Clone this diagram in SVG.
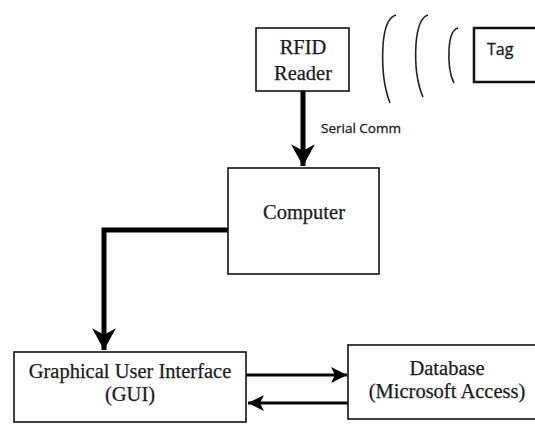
<svg xmlns="http://www.w3.org/2000/svg" width="535" height="424" viewBox="0 0 535 424">
  <style>
    .box { fill: #fff; stroke: #111; stroke-width: 1.6; }
    .tagbox { fill: #fff; stroke: #111; stroke-width: 2.5; }
    .lbl { font-family: "Liberation Serif", "DejaVu Serif", serif; font-size: 20.5px; fill: #1a1a1a; stroke: #1a1a1a; stroke-width: 0.25; text-anchor: middle; }
    .sans { font-family: "Open Sans", "Liberation Sans", sans-serif; fill: #1a1a1a; stroke: #1a1a1a; stroke-width: 0.3; }
    .thick { fill: none; stroke: #000; stroke-width: 5; }
    .thin { fill: none; stroke: #000; stroke-width: 3; }
    .wave { fill: none; stroke: #222; stroke-width: 1.6; }
  </style>
  <defs>
    <marker id="headBig" markerUnits="userSpaceOnUse" markerWidth="26" markerHeight="26" viewBox="-2 -12 24 24" refX="20" refY="0" orient="auto">
      <path d="M0,-11 L20,0 L0,11 L6,0 Z" fill="#000"/>
    </marker>
    <marker id="headSmall" markerUnits="userSpaceOnUse" markerWidth="20" markerHeight="20" viewBox="-2 -10 20 20" refX="16" refY="0" orient="auto">
      <path d="M0,-8 L16,0 L0,8 L4,0 Z" fill="#000"/>
    </marker>
  </defs>
  <rect width="535" height="424" fill="#fff"/>

  <g id="connectors">
    <!-- reader to computer -->
    <path class="thick" d="M303,91 V166" marker-end="url(#headBig)"/>
    <text class="sans" x="321" y="133" font-size="13.5">Serial Comm</text>
    <!-- computer to GUI -->
    <path class="thick" d="M228,230 H104 V350" marker-end="url(#headBig)"/>
    <!-- GUI <-> database -->
    <path class="thin" d="M246,375 H347" marker-end="url(#headSmall)"/>
    <path class="thin" d="M348,403 H248" marker-end="url(#headSmall)"/>
  </g>

  <g id="waves">
    <path class="wave" d="M396,15 Q385,18 383,45 Q381,80 390,103"/>
    <path class="wave" d="M428,15 Q418,18 416,44 Q414,76 423,97"/>
    <path class="wave" d="M458,28 Q450,30 449,50 Q448,72 454,83"/>
  </g>

  <g id="rfid-reader">
    <rect class="box" x="256" y="28" width="93" height="63"/>
    <text class="lbl" x="303" y="54">RFID</text>
    <text class="lbl" x="303" y="80">Reader</text>
  </g>

  <g id="tag">
    <rect class="tagbox" x="474" y="28" width="70" height="54"/>
    <text class="sans" x="487" y="55" font-size="16">Tag</text>
  </g>

  <g id="computer">
    <rect class="box" x="228" y="168" width="151" height="106"/>
    <text class="lbl" x="304" y="219">Computer</text>
  </g>

  <g id="gui">
    <rect class="box" x="14" y="352" width="232" height="70"/>
    <text class="lbl" x="130" y="378">Graphical User Interface</text>
    <text class="lbl" x="130" y="401">(GUI)</text>
  </g>

  <g id="database">
    <rect class="box" x="348" y="345" width="200" height="74"/>
    <text class="lbl" x="447" y="375">Database</text>
    <text class="lbl" x="447" y="398">(Microsoft Access)</text>
  </g>
</svg>
